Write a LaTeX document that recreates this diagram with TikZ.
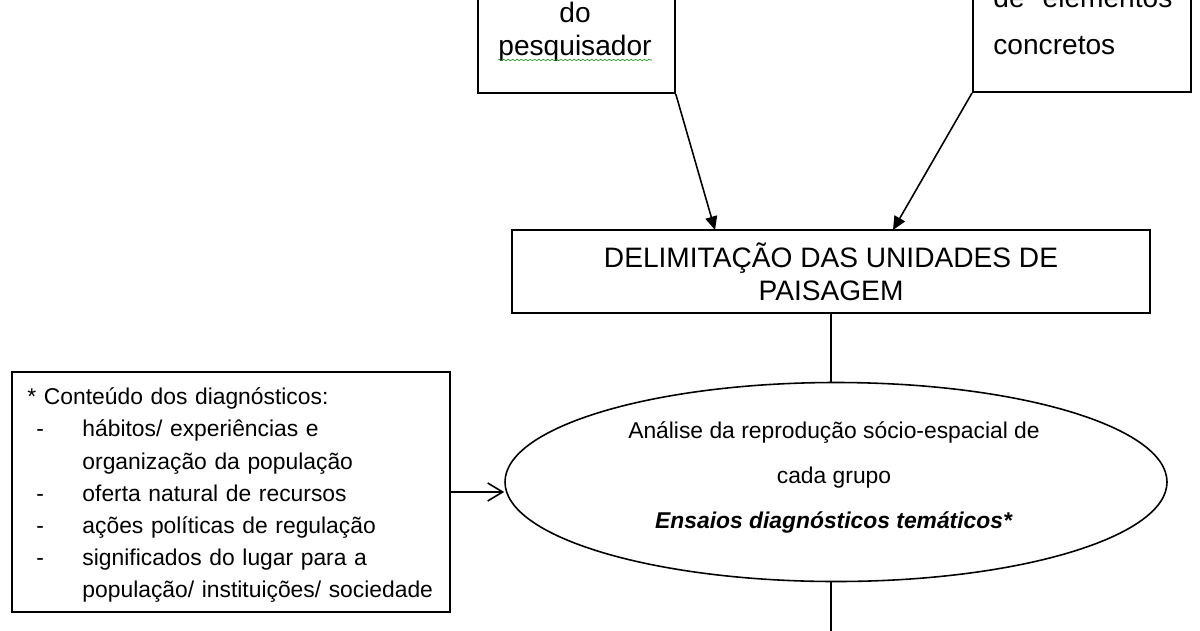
\documentclass[tikz,border=0pt]{standalone}
\usepackage{fontspec}
\setmainfont{Liberation Sans}
\usetikzlibrary{shapes.geometric,arrows.meta,decorations.pathmorphing}
\newcommand{\itm}{\makebox[1.1cm][l]{\hspace{0.18cm}-}}
\newcommand{\cnt}{\hspace*{1.1cm}}
\tikzset{
  box/.style={draw, line width=1pt, inner sep=0pt},
  big/.style={font=\fontsize{16}{18.8}\selectfont},
  small/.style={font=\fontsize{13}{18.3}\selectfont},
  flow/.style={line width=0.9pt, -{Triangle[length=0.27cm,width=0.24cm]}},
  side/.style={line width=0.9pt, -{Straight Barb[length=0.3cm,width=0.36cm]}}
}
\begin{document}
\begin{tikzpicture}
\useasboundingbox[fill=white] (0,0) rectangle (24,12.6);
\clip (0,0) rectangle (24,12.6);

% Top boxes
\node[box, minimum width=3.94cm, minimum height=3cm, anchor=south west] (pesq) at (9.54,10.72) {};
\node[box, minimum width=4.36cm, minimum height=3cm, anchor=south west] (conc) at (19.44,10.74) {};
\node[big, inner sep=0pt, anchor=base] (do) at (11.5,12.16) {do};
\node[big, inner sep=0pt, anchor=base] (pesqtxt) at (11.5,11.49) {pesquisador};
\draw[green!55!black, line width=0.3pt, decorate, decoration={snake, amplitude=0.4pt, segment length=2.5pt}]
  ([yshift=-0.09cm]pesqtxt.base west) -- ([yshift=-0.09cm]pesqtxt.base east);
\node[big, inner sep=0pt, anchor=base west] (elem) at (19.86,12.46) {de\hspace{0.36cm}elementos};
\node[big, inner sep=0pt, anchor=base west] (concr) at (19.86,11.52) {concretos};

% Delimitation
\node[box, big, minimum width=12.76cm, minimum height=1.66cm, align=center] (delim) at (16.62,7.17)
  {DELIMITAÇÃO DAS UNIDADES DE\\PAISAGEM};
\coordinate (inl) at (14.3,8.0);
\coordinate (inr) at (17.86,8.0);
\draw[flow] (pesq.south east) -- (inl);
\draw[flow] (conc.south west) -- (inr);

% Analysis
\node[draw, ellipse, line width=0.9pt, minimum width=13.24cm, minimum height=3.98cm, inner sep=0pt] (ana) at (16.72,2.96) {};
\node[align=center, font=\fontsize{13}{25.6}\selectfont] (anatxt) at (16.68,3.06)
  {Análise da reprodução sócio-espacial de\\cada grupo\\\textbf{\textit{Ensaios diagnósticos temáticos*}}};
\draw[line width=0.9pt] (delim.south) -- (delim.south |- ana.north);
\coordinate (next) at (16.62,-0.5);
\draw[line width=0.9pt] (delim.south |- ana.south) -- (next);

% Diagnostics
\node[box, minimum width=8.76cm, minimum height=4.8cm] (diag) at (4.62,2.76) {};
\node[small, inner sep=0pt, text width=8.12cm, align=left, anchor=north west] (diagtxt)
  at ([xshift=0.32cm, yshift=-0.33cm]diag.north west)
  {* Conteúdo dos diagnósticos:\\
   \itm hábitos/ experiências e\\
   \cnt organização da população\\
   \itm oferta natural de recursos\\
   \itm ações políticas de regulação\\
   \itm significados do lugar para a\\
   \cnt população/ instituições/ sociedade};
\draw[side] (diag.east) -- (diag.east -| ana.west);
\end{tikzpicture}
\end{document}
